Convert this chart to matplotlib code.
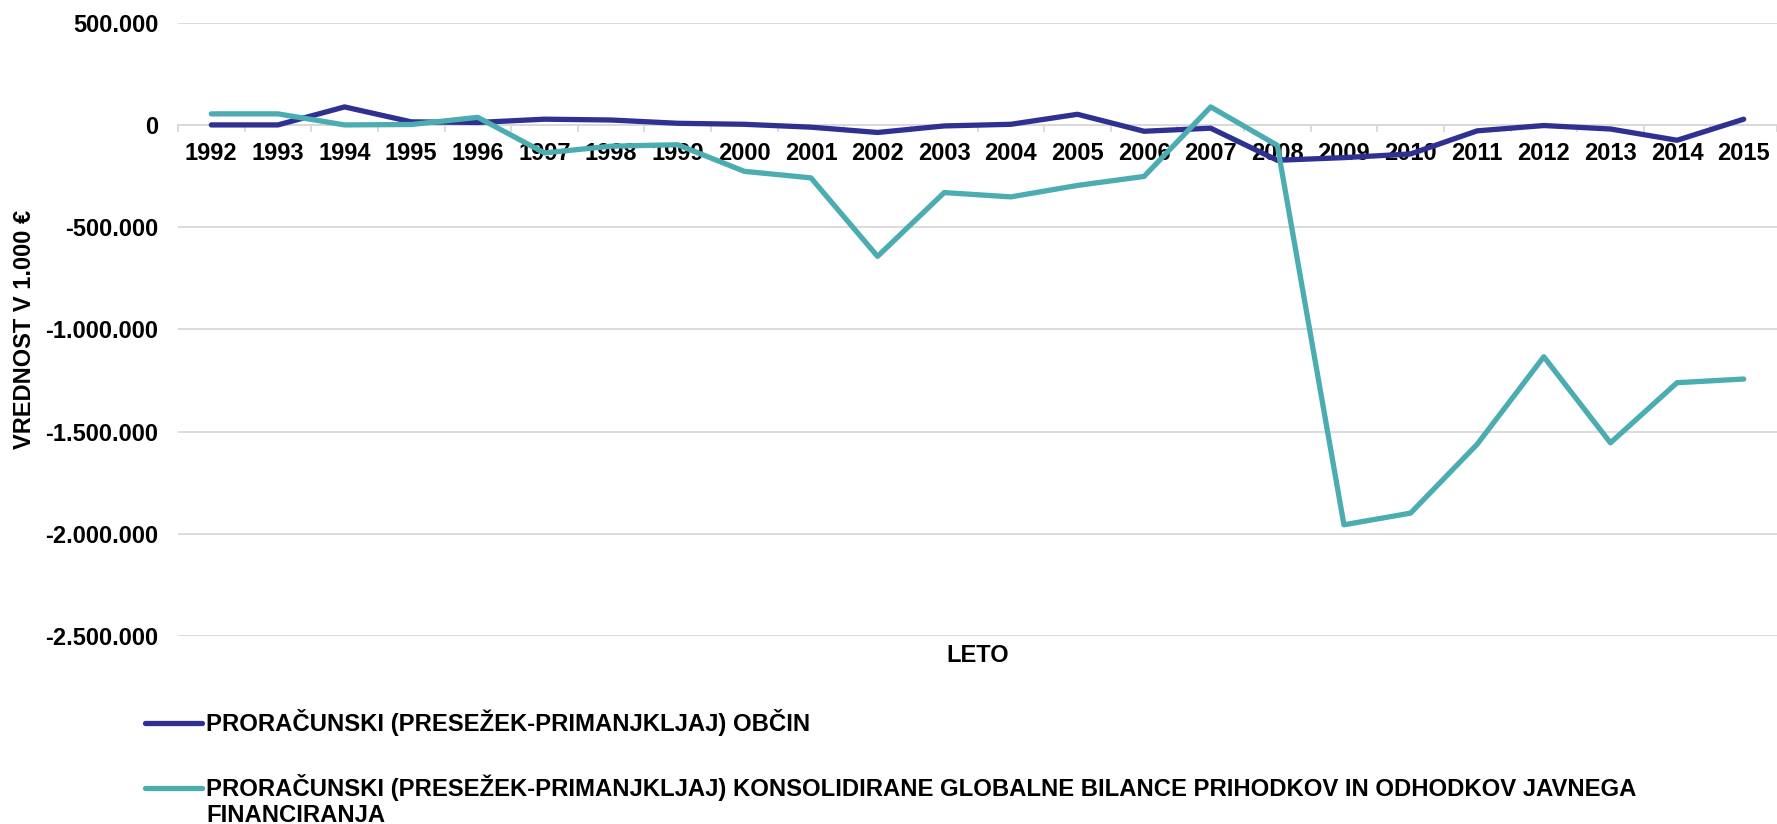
import matplotlib
matplotlib.use("Agg")
import matplotlib.pyplot as plt
from matplotlib.ticker import FixedLocator, FuncFormatter
from matplotlib.transforms import IdentityTransform

plt.rcParams["font.family"] = ["Liberation Sans", "DejaVu Sans"]
plt.rcParams["font.weight"] = "bold"

C_OBC = "#2E3192"   # dark blue
C_KON = "#4BACB2"   # teal
C_GRID = "#D9D9D9"

years = [str(y) for y in range(1992, 2016)]
obcine = [0, 0, 88000, 15000, 12000, 28000, 24000, 8000, 3000, -11000,
          -37000, -5000, 3000, 52000, -31000, -16000, -173000, -160000,
          -142000, -29000, -3000, -20000, -75000, 28000]
konsolidirana = [54000, 54000, 0, 2000, 37000, -137000, -104000, -97000,
                 -227000, -259000, -643000, -331000, -352000, -296000,
                 -252000, 88000, -100000, -1956000, -1899000, -1562000,
                 -1134000, -1555000, -1261000, -1243000]
y_ticks = [500000, 0, -500000, -1000000, -1500000, -2000000, -2500000]

label_obc = "PRORAČUNSKI (PRESEŽEK-PRIMANJKLJAJ) OBČIN"
label_kon = ("PRORAČUNSKI (PRESEŽEK-PRIMANJKLJAJ) KONSOLIDIRANE GLOBALNE "
             "BILANCE PRIHODKOV IN ODHODKOV JAVNEGA")
label_kon_2 = "FINANCIRANJA"

W, H = 1777, 824
fig = plt.figure(figsize=(W / 100, H / 100), dpi=100)
ax = fig.add_axes([178 / W, 1 - 636 / H, 1 - 178 / W, (636 - 22.7) / H])

x = list(range(len(years)))
l1, = ax.plot(x, obcine, color=C_OBC, lw=3.8, solid_joinstyle="round",
              solid_capstyle="round", zorder=3, label=label_obc)
l2, = ax.plot(x, konsolidirana, color=C_KON, lw=3.8, solid_joinstyle="round",
              solid_capstyle="round", zorder=3, label=label_kon)

ax.set_xlim(-0.5, len(years) - 0.5)
ax.set_ylim(-2500000, 500000)

# gridlines
ax.yaxis.set_major_locator(FixedLocator(y_ticks))
ax.grid(axis="y", color=C_GRID, lw=1.3, zorder=0)
ax.set_axisbelow(True)

def fmt(v, pos):
    s = f"{abs(int(v)):,}".replace(",", ".")
    return "-" + s if v < 0 else s

ax.yaxis.set_major_formatter(FuncFormatter(fmt))
ax.tick_params(axis="y", length=0, pad=14, labelsize=17)

# category axis crossing at zero
for side in ("left", "right", "top"):
    ax.spines[side].set_visible(False)
ax.spines["bottom"].set_position(("data", 0))
ax.spines["bottom"].set_color(C_GRID)
ax.spines["bottom"].set_linewidth(1.3)
ax.set_xticks(x)
ax.set_xticklabels(years)
ax.set_xticks([i - 0.5 for i in range(len(years) + 1)], minor=True)
ax.tick_params(axis="x", which="major", length=0, pad=12, labelsize=17)
ax.tick_params(axis="x", which="minor", length=5, width=1.3, color=C_GRID)

ax.set_ylabel("VREDNOST V 1.000 €", fontsize=17, fontweight="bold")
ax.yaxis.set_label_coords(-0.089, 0.5)
ax.text(0.5, -0.031, "LETO", transform=ax.transAxes, ha="center",
        va="center", fontsize=17, fontweight="bold")

leg = fig.legend(handles=[l1, l2], loc="upper left",
                 bbox_to_anchor=(145 / W, 1 - 709 / H),
                 frameon=False, fontsize=17.2, borderpad=0, borderaxespad=0,
                 handlelength=2.4, handletextpad=0.17, labelspacing=1.6)

# wrapped second line of the long label, under its first line
fig.canvas.draw()
bb = leg.get_texts()[1].get_window_extent()
fig.text(bb.x0, bb.y0 + 5 - 26, label_kon_2, transform=IdentityTransform(),
         ha="left", va="baseline", fontsize=17.2, fontweight="bold")

fig.savefig("out.png", dpi=100)
